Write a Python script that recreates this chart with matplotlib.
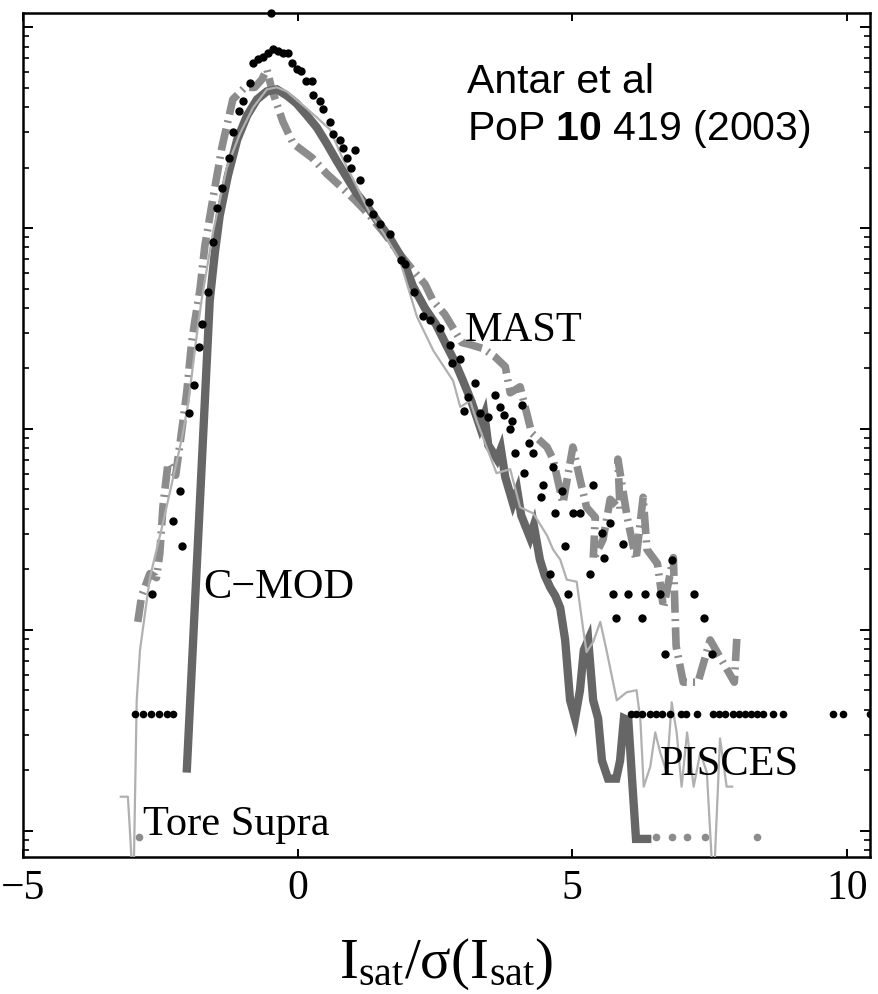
import numpy as np
import matplotlib
matplotlib.use('Agg')
import matplotlib.pyplot as plt
from matplotlib.ticker import LogLocator, NullLocator

plt.rcParams['font.family'] = ['Liberation Serif', 'DejaVu Serif']
plt.rcParams['mathtext.fontset'] = 'custom'
plt.rcParams['mathtext.rm'] = 'Liberation Serif'
plt.rcParams['mathtext.it'] = 'Liberation Serif:italic'
plt.rcParams['mathtext.bf'] = 'Liberation Sans:bold'
plt.rcParams['lines.scale_dashes'] = False

## PDFs of Isat / sigma(Isat), stored as log10(pdf)
# C-MOD, thick dark grey line
cmod_x = [-2.02, -1.60, -1.51, -1.42, -1.27, -1.10, -0.92, -0.74, -0.56, -0.38,
          -0.20, -0.02, 0.17, 0.35, 0.53, 0.72, 0.90, 1.08, 1.26, 1.44,
          1.68, 1.92, 2.10, 2.32, 2.52, 2.72, 2.87, 3.01, 3.16, 3.32,
          3.40, 3.47, 3.63, 3.70, 3.78, 3.92, 4.00, 4.07, 4.23, 4.30,
          4.41, 4.50, 4.60, 4.69, 4.78, 4.87, 4.96, 5.05, 5.14, 5.21,
          5.29, 5.38, 5.47, 5.54, 5.65, 5.80, 5.87, 5.94, 6.02, 6.09,
          6.16, 6.33, 6.44]
cmod_logp = [-3.71, -1.36, -1.13, -0.94, -0.74, -0.56, -0.44, -0.36, -0.32, -0.31,
             -0.34, -0.38, -0.44, -0.50, -0.58, -0.67, -0.75, -0.83, -0.89, -0.96,
             -1.05, -1.16, -1.29, -1.40, -1.48, -1.59, -1.67, -1.76, -1.86, -1.99,
             -1.93, -2.08, -2.15, -2.10, -2.24, -2.37, -2.31, -2.43, -2.54, -2.48,
             -2.65, -2.73, -2.79, -2.83, -2.89, -3.05, -3.35, -3.44, -3.30, -3.10,
             -3.05, -3.35, -3.44, -3.65, -3.74, -3.74, -3.65, -3.44, -3.45, -3.75,
             -4.04, -4.04, -4.04]

# Tore Supra, thin light grey line
tore_x = [-3.22, -3.09, -2.99, -2.93, -2.87, -2.69, -2.48, -2.33, -2.11, -1.99,
          -1.84, -1.75, -1.54, -1.29, -1.05, -0.81, -0.56, -0.38, -0.20, 0.10,
          0.35, 0.59, 0.83, 1.07, 1.32, 1.55, 1.86, 2.17, 2.47, 2.83,
          2.96, 3.14, 3.26, 3.44, 3.62, 3.87, 4.05, 4.29, 4.54, 4.65,
          4.78, 4.90, 5.08, 5.20, 5.26, 5.38, 5.51, 5.63, 5.81, 5.99,
          6.17, 6.24, 6.30, 6.42, 6.51, 6.60, 6.72, 6.81, 6.90, 6.99,
          7.09, 7.21, 7.33, 7.45, 7.57, 7.69, 7.81, 7.91]
tore_logp = [-3.83, -3.83, -4.30, -3.35, -3.10, -2.74, -2.50, -2.32, -2.05, -1.87,
             -1.54, -1.36, -1.02, -0.70, -0.53, -0.40, -0.31, -0.30, -0.32, -0.39,
             -0.45, -0.51, -0.66, -0.79, -0.93, -1.02, -1.16, -1.44, -1.61, -1.76,
             -1.89, -1.86, -1.96, -2.09, -2.22, -2.20, -2.39, -2.42, -2.53, -2.60,
             -2.65, -2.75, -2.76, -3.00, -3.11, -3.06, -2.96, -3.11, -3.35, -3.31,
             -3.30, -3.45, -3.78, -3.68, -3.51, -3.61, -3.71, -3.36, -3.51, -3.78,
             -3.51, -3.78, -3.61, -3.71, -4.30, -3.54, -3.78, -3.78]

# MAST, thick grey dash-dot line
mast_x = [-2.91, -2.84, -2.69, -2.57, -2.51, -2.45, -2.36, -2.22, -2.14, -2.02,
          -1.93, -1.87, -1.78, -1.69, -1.54, -1.38, -1.18, -0.96, -0.78, -0.65,
          -0.56, -0.47, -0.27, -0.08, 0.26, 0.53, 0.77, 1.04, 1.32, 1.59,
          1.86, 2.10, 2.32, 2.46, 2.68, 2.99, 3.14, 3.38, 3.59, 3.78,
          3.87, 4.05, 4.26, 4.54, 4.65, 4.83, 5.01, 5.14, 5.26, 5.42,
          5.38, 5.56, 5.69, 5.87, 5.83, 6.00, 6.16, 6.29, 6.36, 6.55,
          6.66, 6.84, 6.89, 7.02, 7.29, 7.51, 7.95, 8.00]
mast_logp = [-2.96, -2.83, -2.72, -2.74, -2.62, -2.38, -2.17, -2.23, -2.07, -1.82,
             -1.57, -1.46, -1.31, -1.09, -0.85, -0.60, -0.36, -0.30, -0.30, -0.26,
             -0.21, -0.31, -0.47, -0.58, -0.65, -0.73, -0.79, -0.86, -0.94, -1.03,
             -1.13, -1.21, -1.28, -1.36, -1.43, -1.57, -1.58, -1.60, -1.64, -1.69,
             -1.82, -1.79, -2.02, -2.09, -2.15, -2.37, -2.09, -2.25, -2.39, -2.44,
             -2.65, -2.55, -2.35, -2.40, -2.15, -2.44, -2.65, -2.34, -2.60, -2.67,
             -2.89, -2.64, -3.08, -3.26, -3.26, -3.05, -3.26, -3.02]
# single-count bins of the grey set
mast_floor_x = [-2.89, 6.53, 6.82, 7.08, 7.42, 8.36]
mast_floor_logp = -4.03

# PISCES, black dots
pisces_x = [-2.66, -2.27, -2.11, -2.14, -1.97, -1.88, -1.79, -1.75, -1.63, -1.54,
            -1.47, -1.38, -1.25, -1.18, -1.07, -1.00, -0.87, -0.81, -0.72, -0.63,
            -0.54, -0.44, -0.35, -0.26, -0.17, -0.11, -0.02, 0.07, 0.16, 0.26,
            0.28, 0.41, 0.46, 0.58, 0.65, 0.77, 0.82, 0.89, 0.98, 1.04,
            1.13, 1.29, 1.38, 1.50, 1.68, 1.89, 1.95, 2.11, 2.29, 2.41,
            2.59, 2.77, 2.81, 2.96, 3.02, 3.11, 3.23, 3.32, 3.47, 3.59,
            3.68, 3.76, 3.87, 3.90, 3.96, 4.08, 4.12, 4.22, 4.28, 4.43,
            4.47, 4.60, 4.64, 4.69, 4.81, 4.87, 4.93, 5.01, 5.14, 5.32,
            5.37, 5.54, 5.58, 5.69, 5.74, 5.80, 5.93, 6.02, 6.27, 6.33,
            6.60, 6.69, 6.81, 7.21, 7.40, 7.54]
pisces_logp = [-2.82, -2.46, -2.58, -2.31, -1.92, -1.78, -1.59, -1.48, -1.32, -1.07,
               -0.90, -0.80, -0.65, -0.52, -0.42, -0.37, -0.28, -0.18, -0.16, -0.15,
               -0.13, -0.11, -0.12, -0.13, -0.13, -0.18, -0.21, -0.22, -0.27, -0.27,
               -0.34, -0.37, -0.41, -0.47, -0.53, -0.56, -0.60, -0.65, -0.70, -0.61,
               -0.76, -0.87, -0.93, -0.98, -1.03, -1.16, -1.18, -1.32, -1.44, -1.46,
               -1.50, -1.58, -1.67, -1.65, -1.91, -1.84, -1.77, -1.92, -1.94, -1.83,
               -1.89, -1.93, -2.00, -1.96, -2.12, -1.88, -2.22, -2.07, -2.12, -2.34,
               -2.28, -2.72, -2.19, -2.42, -2.31, -2.58, -2.82, -2.42, -2.42, -2.72,
               -2.28, -2.52, -2.64, -2.47, -2.82, -2.94, -2.57, -2.82, -2.94, -2.82,
               -2.82, -3.12, -2.65, -2.82, -2.94, -3.12]
# single-count bins of the black set
pisces_floor_x = [-2.96, -2.82, -2.67, -2.52, -2.38, -2.27,
                  6.06, 6.16, 6.27, 6.42, 6.53, 6.64, 6.78, 6.98, 7.07, 7.27,
                  7.57, 7.67, 7.78, 7.93, 8.04, 8.15, 8.26, 8.36, 8.47, 8.65,
                  8.84, 9.75, 9.93, 10.42]
pisces_floor_logp = -3.42
pisces_peak_x = -0.49
pisces_peak_logp = 0.07

xticks = [-5, 0, 5, 10]
xticklabels = ['\u22125', '0', '5', '10']

fig = plt.figure(figsize=(8.79, 9.94), dpi=100)
ax = fig.add_axes([0.02617, 0.13783, 0.96359, 0.84909])
ax.set_yscale('log')

ax.plot(mast_x, 10**np.array(mast_logp), color='#8c8c8c', lw=5.5,
        linestyle=(0, (16, 4.5, 1.5, 4.5)), dash_capstyle='butt', zorder=1)
ax.plot(mast_floor_x, np.full(len(mast_floor_x), 10**mast_floor_logp), 'o',
        color='#8c8c8c', ms=4.5, zorder=1)
ax.plot(cmod_x, 10**np.array(cmod_logp), color='#666666', lw=6,
        solid_capstyle='butt', solid_joinstyle='miter', zorder=2)
ax.plot(tore_x, 10**np.array(tore_logp), color='#b0b0b0', lw=1.6, zorder=3)
ax.plot(pisces_x, 10**np.array(pisces_logp), 'o', color='black', ms=5, zorder=4)
ax.plot(pisces_floor_x, np.full(len(pisces_floor_x), 10**pisces_floor_logp), 'o',
        color='black', ms=4.5, zorder=4)
ax.plot([pisces_peak_x], [10**pisces_peak_logp], 'o', color='black', ms=5,
        zorder=5, clip_on=False)

ax.set_xlim(-5, 10.42)
ax.set_ylim(10**-4.13, 10**0.07)
ax.set_xticks(xticks)
ax.set_xticklabels(xticklabels)
ax.xaxis.set_minor_locator(NullLocator())
ax.yaxis.set_major_locator(LogLocator(base=10, numticks=10))
ax.yaxis.set_minor_locator(LogLocator(base=10, subs=np.arange(2, 10), numticks=10))
ax.tick_params(axis='x', which='major', direction='in', length=5.5, width=1.4,
               top=True, labelsize=30, pad=9)
ax.tick_params(axis='y', which='major', direction='in', length=7, width=1.4,
               right=True, labelleft=False)
ax.tick_params(axis='y', which='minor', direction='in', length=4, width=1.2,
               right=True, labelleft=False)
for s in ax.spines.values():
    s.set_linewidth(1.8)

ax.set_xlabel(r'$\mathrm{I_{sat}/\sigma(I_{sat})}$', fontsize=41, va='baseline')
ax.xaxis.set_label_coords(0.5, -0.1434)

lab = dict(fontsize=30.5, va='baseline', ha='left')
ax.text(3.05, 10**-1.56, 'MAST', **lab)
ax.text(-1.72, 10**-2.84, 'C\u2212MOD', **lab)
ax.text(6.60, 10**-3.72, 'PISCES', **lab)
ax.text(-2.81, 10**-4.02, 'Tore Supra', **lab)

ref = dict(fontsize=29.5, va='baseline', ha='left', family='Liberation Sans',
           transform=ax.transAxes)
ax.text(0.524, 0.905, 'Antar et al', **ref)
ax.text(0.524, 0.8495, r'PoP $\mathbf{10}$ 419 (2003)', **ref)

fig.savefig('out.png', dpi=100)
